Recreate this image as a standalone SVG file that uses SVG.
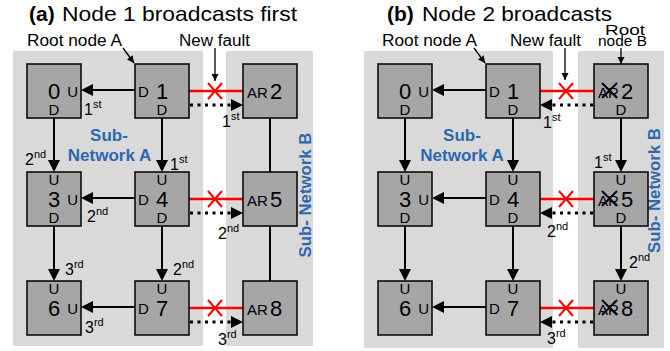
<svg xmlns="http://www.w3.org/2000/svg" width="670" height="351" viewBox="0 0 670 351">
<defs>
<style>
.bg{fill:#d9d9d9}
.nd{fill:#a6a6a6;stroke:#000;stroke-width:1.5}
text{font-family:"Liberation Sans",Arial,sans-serif;fill:#000}
.ud{font-size:15px}
.dg{font-size:22px}
.m{text-anchor:middle}
.e{text-anchor:end}
.lb{font-size:16px}
.sp{font-size:11px}
.blue{fill:#2e67b1;font-weight:bold;font-size:17px}
.ttl{font-size:21px}
.ann{font-size:16px}
.arr{stroke:#000;stroke-width:2;fill:none;marker-end:url(#ah)}
.ln{stroke:#000;stroke-width:2;fill:none}
.dot{stroke:#000;stroke-width:3;stroke-dasharray:3 4.5;fill:none;marker-end:url(#ah)}
.red{stroke:#f00;stroke-width:2.5;fill:none}
.rx{stroke:#f00;stroke-width:2;fill:none}
.bx{stroke:#000;stroke-width:2;fill:none}
.thin{stroke:#000;stroke-width:1.3;fill:none;marker-end:url(#sh)}
</style>
<marker id="ah" markerUnits="userSpaceOnUse" markerWidth="12" markerHeight="12" refX="8" refY="6" orient="auto">
<path d="M0,0 L12,6 L0,12 z" fill="#000"/>
</marker>
<marker id="sh" markerUnits="userSpaceOnUse" markerWidth="8" markerHeight="8" refX="7" refY="3.5" orient="auto">
<path d="M0,0 L7,3.5 L0,7 z" fill="#000"/>
</marker>
</defs>

<g id="backgrounds">
<rect class="bg" x="13" y="51" width="190" height="295"/>
<rect class="bg" x="226" y="51" width="87" height="295"/>
<rect class="bg" x="364" y="51" width="189" height="297"/>
<rect class="bg" x="578" y="51" width="86" height="297"/>
</g>

<g id="titles">
<text class="ttl" x="29" y="21" font-weight="bold">(a)</text>
<text class="ttl" x="62" y="21" textLength="235" lengthAdjust="spacingAndGlyphs">Node 1 broadcasts first</text>
<text class="ttl" x="387" y="21" font-weight="bold">(b)</text>
<text class="ttl" x="422" y="21" textLength="190" lengthAdjust="spacingAndGlyphs">Node 2 broadcasts</text>
<text class="ann" x="27" y="46" textLength="95" lengthAdjust="spacingAndGlyphs">Root node A</text>
<text class="ann" x="179" y="46" textLength="71" lengthAdjust="spacingAndGlyphs">New fault</text>
<text class="ann" x="382" y="46" textLength="95" lengthAdjust="spacingAndGlyphs">Root node A</text>
<text class="ann" x="510" y="46" textLength="71" lengthAdjust="spacingAndGlyphs">New fault</text>
<text x="605" y="35" font-size="15" textLength="40" lengthAdjust="spacingAndGlyphs">Root</text>
<text x="598" y="46" font-size="14" textLength="49" lengthAdjust="spacingAndGlyphs">node B</text>
<text class="blue m" x="109" y="141">Sub-</text>
<text class="blue m" x="109.5" y="161">Network A</text>
<text class="blue m" x="462" y="141">Sub-</text>
<text class="blue m" x="462" y="161">Network A</text>
<text class="blue m" transform="translate(311,195) rotate(-90)" textLength="125" lengthAdjust="spacingAndGlyphs">Sub- Network B</text>
<text class="blue m" transform="translate(660,190.5) rotate(-90)" textLength="125" lengthAdjust="spacingAndGlyphs">Sub- Network B</text>
</g>

<g id="connectors">
<!-- panel a -->
<line class="arr" x1="135" y1="90" x2="85" y2="90"/>
<line class="arr" x1="135" y1="198" x2="85" y2="198"/>
<line class="arr" x1="135" y1="307" x2="85" y2="307"/>
<line class="arr" x1="54" y1="118" x2="54" y2="168"/>
<line class="arr" x1="54" y1="226" x2="54" y2="277"/>
<line class="arr" x1="162" y1="118" x2="162" y2="168"/>
<line class="arr" x1="162" y1="226" x2="162" y2="277"/>
<line class="ln" x1="270" y1="118" x2="270" y2="172"/>
<line class="ln" x1="270" y1="226" x2="270" y2="281"/>
<line class="red" x1="189" y1="91" x2="243" y2="91"/>
<line class="red" x1="189" y1="199" x2="243" y2="199"/>
<line class="red" x1="189" y1="308" x2="243" y2="308"/>
<path class="rx" d="M208,83 L222,99 M222,83 L208,99"/>
<path class="rx" d="M208,191 L222,207 M222,191 L208,207"/>
<path class="rx" d="M208,300 L222,316 M222,300 L208,316"/>
<line class="dot" x1="190" y1="105" x2="239" y2="105"/>
<line class="dot" x1="190" y1="213" x2="239" y2="213"/>
<line class="dot" x1="190" y1="322" x2="239" y2="322"/>
<line class="thin" x1="215" y1="48" x2="215" y2="81"/>
<line class="thin" x1="123" y1="48" x2="134" y2="63"/>
<!-- panel b -->
<line class="arr" x1="486" y1="90" x2="436" y2="90"/>
<line class="arr" x1="486" y1="198" x2="436" y2="198"/>
<line class="arr" x1="486" y1="307" x2="436" y2="307"/>
<line class="arr" x1="405" y1="118" x2="405" y2="168"/>
<line class="arr" x1="405" y1="226" x2="405" y2="277"/>
<line class="arr" x1="513" y1="118" x2="513" y2="168"/>
<line class="arr" x1="513" y1="226" x2="513" y2="277"/>
<line class="arr" x1="621" y1="118" x2="621" y2="168"/>
<line class="arr" x1="621" y1="226" x2="621" y2="277"/>
<line class="red" x1="540" y1="91" x2="594" y2="91"/>
<line class="red" x1="540" y1="199" x2="594" y2="199"/>
<line class="red" x1="540" y1="308" x2="594" y2="308"/>
<path class="rx" d="M559,83 L573,99 M573,83 L559,99"/>
<path class="rx" d="M559,191 L573,207 M573,191 L559,207"/>
<path class="rx" d="M559,300 L573,316 M573,300 L559,316"/>
<line class="dot" x1="593" y1="105" x2="544" y2="105"/>
<line class="dot" x1="593" y1="213" x2="544" y2="213"/>
<line class="dot" x1="593" y1="322" x2="544" y2="322"/>
<line class="thin" x1="565" y1="48" x2="565" y2="80"/>
<line class="thin" x1="474" y1="48" x2="485" y2="63"/>
<line class="thin" x1="621" y1="48" x2="621" y2="64"/>
</g>

<g id="order-labels">
<text class="lb" x="84" y="115">1<tspan class="sp" dy="-7">st</tspan></text>
<text class="lb" x="222" y="127">1<tspan class="sp" dy="-7">st</tspan></text>
<text class="lb" x="25" y="165">2<tspan class="sp" dy="-7">nd</tspan></text>
<text class="lb" x="170" y="170">1<tspan class="sp" dy="-7">st</tspan></text>
<text class="lb" x="87" y="222">2<tspan class="sp" dy="-7">nd</tspan></text>
<text class="lb" x="218" y="239">2<tspan class="sp" dy="-7">nd</tspan></text>
<text class="lb" x="65" y="275">3<tspan class="sp" dy="-7">rd</tspan></text>
<text class="lb" x="173" y="275">2<tspan class="sp" dy="-7">nd</tspan></text>
<text class="lb" x="85" y="333">3<tspan class="sp" dy="-7">rd</tspan></text>
<text class="lb" x="218" y="345">3<tspan class="sp" dy="-7">rd</tspan></text>
<text class="lb" x="543" y="128">1<tspan class="sp" dy="-7">st</tspan></text>
<text class="lb" x="594" y="168">1<tspan class="sp" dy="-7">st</tspan></text>
<text class="lb" x="547" y="237">2<tspan class="sp" dy="-7">nd</tspan></text>
<text class="lb" x="629" y="268">2<tspan class="sp" dy="-7">nd</tspan></text>
<text class="lb" x="547" y="344">3<tspan class="sp" dy="-7">rd</tspan></text>
</g>

<!-- panel a nodes -->
<g id="a-node0"><rect class="nd" x="27" y="64" width="54" height="54"/>
<text class="dg m" x="54" y="99">0</text><text class="ud e" x="78" y="97">U</text><text class="ud m" x="54" y="115">D</text></g>
<g id="a-node1"><rect class="nd" x="135" y="64" width="54" height="54"/>
<text class="ud" x="138" y="97">D</text><text class="dg m" x="162" y="99">1</text><text class="ud m" x="162" y="115">D</text></g>
<g id="a-node2"><rect class="nd" x="243" y="64" width="54" height="54"/>
<text class="ud" x="247" y="98">AR</text><text class="dg" x="270" y="99">2</text></g>
<g id="a-node3"><rect class="nd" x="27" y="172" width="54" height="54"/>
<text class="ud m" x="54" y="185">U</text><text class="dg m" x="54" y="207">3</text><text class="ud e" x="78" y="205">U</text><text class="ud m" x="54" y="223">D</text></g>
<g id="a-node4"><rect class="nd" x="135" y="172" width="54" height="54"/>
<text class="ud m" x="162" y="185">U</text><text class="ud" x="138" y="205">D</text><text class="dg m" x="162" y="207">4</text><text class="ud m" x="162" y="223">D</text></g>
<g id="a-node5"><rect class="nd" x="243" y="172" width="54" height="54"/>
<text class="ud" x="247" y="206">AR</text><text class="dg" x="270" y="207">5</text></g>
<g id="a-node6"><rect class="nd" x="27" y="281" width="54" height="54"/>
<text class="ud m" x="54" y="294">U</text><text class="dg m" x="54" y="316">6</text><text class="ud e" x="78" y="314">U</text></g>
<g id="a-node7"><rect class="nd" x="135" y="281" width="54" height="54"/>
<text class="ud m" x="162" y="294">U</text><text class="ud" x="138" y="314">D</text><text class="dg m" x="162" y="316">7</text></g>
<g id="a-node8"><rect class="nd" x="243" y="281" width="54" height="54"/>
<text class="ud" x="247" y="315">AR</text><text class="dg" x="270" y="316">8</text></g>

<!-- panel b nodes -->
<g id="b-node0"><rect class="nd" x="378" y="64" width="54" height="54"/>
<text class="dg m" x="405" y="99">0</text><text class="ud e" x="429" y="97">U</text><text class="ud m" x="405" y="115">D</text></g>
<g id="b-node1"><rect class="nd" x="486" y="64" width="54" height="54"/>
<text class="ud" x="489" y="97">D</text><text class="dg m" x="513" y="99">1</text><text class="ud m" x="513" y="115">D</text></g>
<g id="b-node2"><rect class="nd" x="594" y="64" width="54" height="54"/>
<text class="ud" x="598" y="98">AR</text><path class="bx" d="M602,83 L617,98 M617,83 L602,98"/><text class="dg" x="621" y="99">2</text><text class="ud m" x="621" y="115">D</text></g>
<g id="b-node3"><rect class="nd" x="378" y="172" width="54" height="54"/>
<text class="ud m" x="405" y="185">U</text><text class="dg m" x="405" y="207">3</text><text class="ud e" x="429" y="205">U</text><text class="ud m" x="405" y="223">D</text></g>
<g id="b-node4"><rect class="nd" x="486" y="172" width="54" height="54"/>
<text class="ud m" x="513" y="185">U</text><text class="ud" x="489" y="205">D</text><text class="dg m" x="513" y="207">4</text><text class="ud m" x="513" y="223">D</text></g>
<g id="b-node5"><rect class="nd" x="594" y="172" width="54" height="54"/>
<text class="ud m" x="621" y="185">U</text><text class="ud" x="598" y="206">AR</text><path class="bx" d="M602,191 L617,206 M617,191 L602,206"/><text class="dg" x="621" y="207">5</text><text class="ud m" x="621" y="223">D</text></g>
<g id="b-node6"><rect class="nd" x="378" y="281" width="54" height="54"/>
<text class="ud m" x="405" y="294">U</text><text class="dg m" x="405" y="316">6</text><text class="ud e" x="429" y="314">U</text></g>
<g id="b-node7"><rect class="nd" x="486" y="281" width="54" height="54"/>
<text class="ud m" x="513" y="294">U</text><text class="ud" x="489" y="314">D</text><text class="dg m" x="513" y="316">7</text></g>
<g id="b-node8"><rect class="nd" x="594" y="281" width="54" height="54"/>
<text class="ud m" x="621" y="294">U</text><text class="ud" x="598" y="315">AR</text><path class="bx" d="M602,300 L617,315 M617,300 L602,315"/><text class="dg" x="621" y="316">8</text></g>
</svg>
